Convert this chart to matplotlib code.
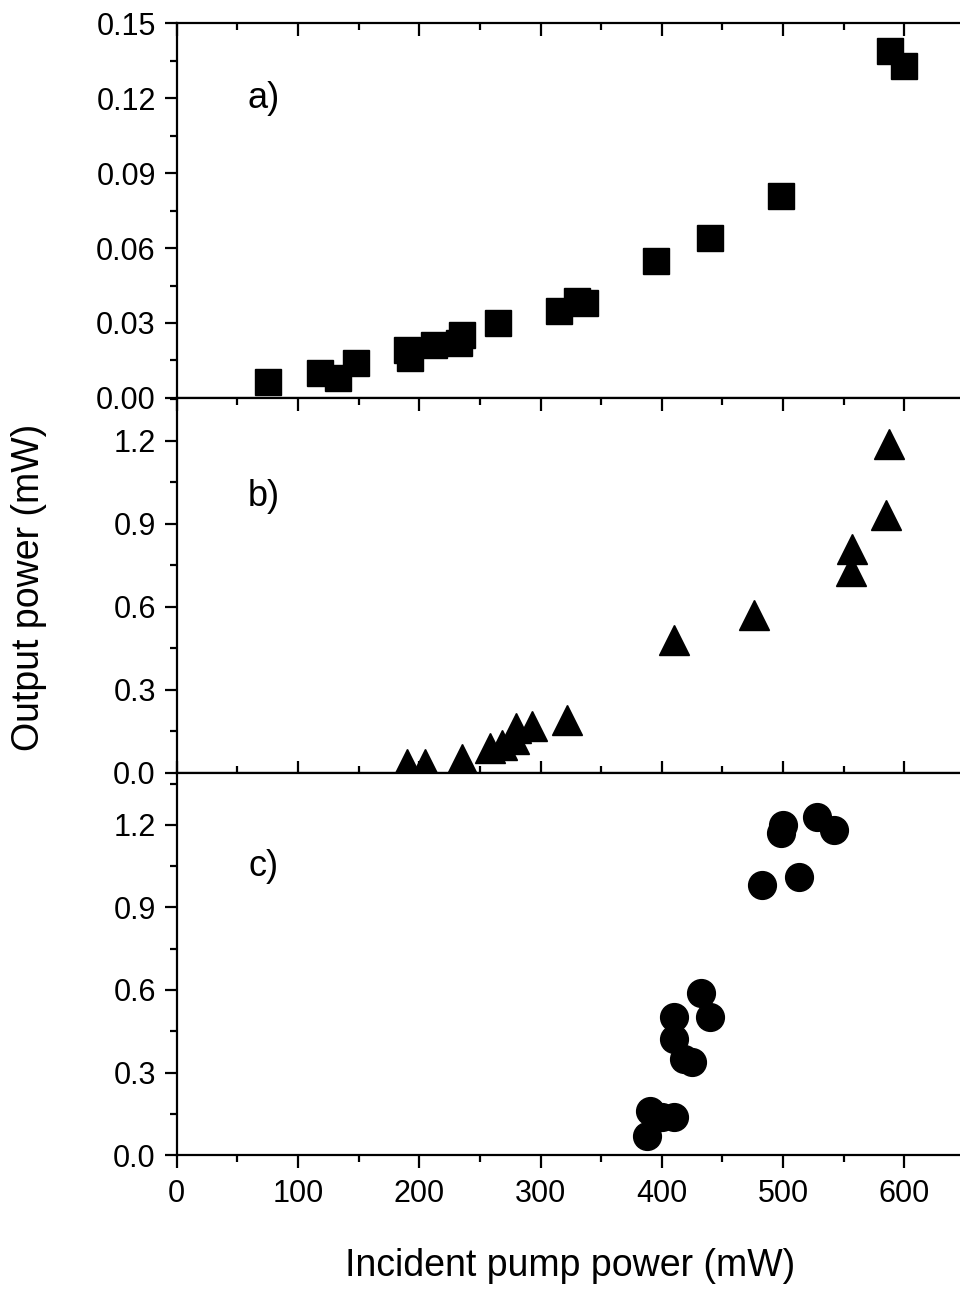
import matplotlib.pyplot as plt
from matplotlib.ticker import MultipleLocator

plt.rcParams['font.family'] = ['Liberation Sans', 'DejaVu Sans']

# panel a) squares
xa = [75, 118, 133, 148, 190, 192, 212, 233, 235, 265, 315, 330, 337, 395, 440, 498, 588, 600]
ya = [0.0065, 0.010, 0.008, 0.014, 0.019, 0.016, 0.021, 0.022, 0.025, 0.030, 0.035, 0.039, 0.038,
      0.055, 0.064, 0.081, 0.139, 0.133]
# panel b) triangles
xb = [190, 205, 235, 258, 268, 278, 280, 293, 322, 410, 476, 556, 557, 585, 587]
yb = [0.03, 0.03, 0.05, 0.09, 0.10, 0.12, 0.16, 0.17, 0.19, 0.48, 0.57, 0.73, 0.81, 0.93, 1.19]
# panel c) circles
xc = [388, 390, 400, 410, 410, 410, 418, 425, 432, 440, 483, 498, 500, 513, 528, 542]
yc = [0.07, 0.16, 0.14, 0.14, 0.50, 0.42, 0.35, 0.34, 0.59, 0.50, 0.98, 1.17, 1.20, 1.01, 1.23, 1.18]

fig = plt.figure(figsize=(9.6, 12.92), dpi=100)
L, W = 0.184, 0.82
ax_a = fig.add_axes([L, 0.692, W, 0.290])
ax_b = fig.add_axes([L, 0.402, W, 0.290])
ax_c = fig.add_axes([L, 0.106, W, 0.296])

panels = [
    (ax_a, xa, ya, 's', 19, (0, 0.15), 0.03, 0.015, 'a)', 0.12),
    (ax_b, xb, yb, '^', 21, (0, 1.355), 0.3, 0.15, 'b)', 1.0),
    (ax_c, xc, yc, 'o', 20, (0, 1.39), 0.3, 0.15, 'c)', 1.05),
]
for ax, x, y, m, ms, ylim, maj, mnr, lab, ly in panels:
    ax.plot(x, y, m, color='black', ms=ms, ls='none', clip_on=False)
    ax.set_xlim(0, 649)
    ax.set_ylim(*ylim)
    ax.xaxis.set_major_locator(MultipleLocator(100))
    ax.xaxis.set_minor_locator(MultipleLocator(50))
    ax.yaxis.set_major_locator(MultipleLocator(maj))
    ax.yaxis.set_minor_locator(MultipleLocator(mnr))
    ax.tick_params(axis='y', which='both', direction='out', width=1.6, labelsize=22, pad=6)
    ax.tick_params(axis='x', which='both', direction='in', top=True, bottom=False,
                   width=1.6, labelsize=22, labelbottom=False, pad=8)
    ax.tick_params(which='major', length=9)
    ax.tick_params(which='minor', length=5)
    for s in ax.spines.values():
        s.set_linewidth(1.6)
    ax.spines['right'].set_visible(False)
    ax.text(72, ly, lab, fontsize=26, ha='center', va='center')
    if ax is ax_a:
        ax.set_yticks([0, 0.03, 0.06, 0.09, 0.12, 0.15])
        ax.set_yticklabels(['0.00', '0.03', '0.06', '0.09', '0.12', '0.15'])
    else:
        ax.set_yticks([0, 0.3, 0.6, 0.9, 1.2])
        ax.set_yticklabels(['0.0', '0.3', '0.6', '0.9', '1.2'])

ax_c.tick_params(axis='x', which='both', bottom=True, labelbottom=True, direction='out')
ax_c.set_xlabel('Incident pump power (mW)', fontsize=27, labelpad=28)
fig.text(0.03, 0.545, 'Output power (mW)', rotation=90, fontsize=27, ha='center', va='center')

fig.savefig('out.png', dpi=100)
